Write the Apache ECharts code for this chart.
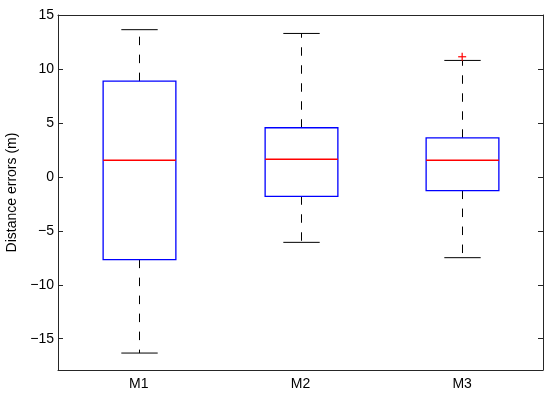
<!DOCTYPE html>
<html><head><meta charset="utf-8">
<script src="https://cdn.jsdelivr.net/npm/echarts@6/dist/echarts.min.js"></script>
<style>html,body{margin:0;padding:0;background:#fff}#c{width:550px;height:394px}</style>
</head><body><div id="c"></div>
<script>
const categories = ['M1', 'M2', 'M3'];
const lowerWhisker = [-16.33, -6.07, -7.49];
const q1 = [-7.67, -1.8, -1.27];
const median = [1.54, 1.63, 1.54];
const q3 = [8.87, 4.55, 3.62];
const upperWhisker = [13.64, 13.29, 10.79];
const outlierCat = [2];
const outlierVal = [11.13];
const yTicks = [-15, -10, -5, 0, 5, 10, 15];
const yMin = -17.9, yMax = 15;

const boxData = categories.map((c, i) => [i, lowerWhisker[i], q1[i], median[i], q3[i], upperWhisker[i]]);
const outData = outlierCat.map((c, i) => [c, outlierVal[i]]);

const FONT = 'Liberation Sans, Arial, sans-serif';
const axisColor = '#262626';

function renderBox(params, api) {
  const x = api.value(0);
  const band = api.size([1, 0])[0];
  const hw = band * 0.225, cw = band * 0.1125;
  const pLo = api.coord([x, api.value(1)]);
  const pQ1 = api.coord([x, api.value(2)]);
  const pMed = api.coord([x, api.value(3)]);
  const pQ3 = api.coord([x, api.value(4)]);
  const pHi = api.coord([x, api.value(5)]);
  const cx = Math.round(pQ1[0]) + 0.5;
  const dash = { stroke: '#000', lineWidth: 1, lineDash: [8.5, 9.5] };
  const solid = { stroke: '#000', lineWidth: 1 };
  return {
    type: 'group',
    children: [
      { type: 'line', shape: { x1: cx, y1: pQ3[1], x2: cx, y2: pHi[1] }, style: dash },
      { type: 'line', shape: { x1: cx, y1: pQ1[1], x2: cx, y2: pLo[1] }, style: dash },
      { type: 'line', shape: { x1: cx - cw, y1: pHi[1], x2: cx + cw, y2: pHi[1] }, style: solid },
      { type: 'line', shape: { x1: cx - cw, y1: pLo[1], x2: cx + cw, y2: pLo[1] }, style: solid },
      { type: 'rect', shape: { x: cx - hw, y: pQ3[1], width: 2 * hw, height: pQ1[1] - pQ3[1] },
        style: { fill: 'none', stroke: '#0000ff', lineWidth: 1.3 } },
      { type: 'line', shape: { x1: cx - hw, y1: pMed[1], x2: cx + hw, y2: pMed[1] },
        style: { stroke: '#ff0000', lineWidth: 1.3 } }
    ]
  };
}

function renderOut(params, api) {
  const p = api.coord([api.value(0), api.value(1)]);
  const s = 4;
  const st = { stroke: '#ff0000', lineWidth: 1.2 };
  return {
    type: 'group',
    children: [
      { type: 'line', shape: { x1: p[0] - s, y1: p[1], x2: p[0] + s, y2: p[1] }, style: st },
      { type: 'line', shape: { x1: p[0], y1: p[1] - s, x2: p[0], y2: p[1] + s }, style: st }
    ]
  };
}

const minusFmt = v => String(v).replace('-', '\u2212');

const chart = echarts.init(document.getElementById('c'), null, { renderer: 'canvas' });
chart.setOption({
  animation: false,
  backgroundColor: '#fff',
  grid: { left: 58, top: 15, right: 7, bottom: 24, containLabel: false, outerBoundsMode: 'none' },
  xAxis: [
    { type: 'category', data: categories, boundaryGap: true, position: 'bottom',
      axisLine: { onZero: false, lineStyle: { color: axisColor, width: 1 } },
      axisTick: { show: false },
      axisLabel: { color: '#000', fontFamily: FONT, fontSize: 14, margin: 7 },
      splitLine: { show: false } },
    { type: 'category', data: categories, boundaryGap: true, position: 'top',
      axisLine: { onZero: false, lineStyle: { color: axisColor, width: 1 } },
      axisTick: { show: false }, axisLabel: { show: false }, splitLine: { show: false } }
  ],
  yAxis: [
    { type: 'value', min: yMin, max: yMax, position: 'left',
      name: 'Distance errors (m)', nameLocation: 'middle', nameGap: 39, nameRotate: 90,
      nameTextStyle: { color: '#000', fontFamily: FONT, fontSize: 14 },
      axisLine: { show: true, onZero: false, lineStyle: { color: axisColor, width: 1 } },
      axisTick: { show: true, inside: true, length: 5, customValues: yTicks, lineStyle: { color: axisColor } },
      axisLabel: { color: '#000', fontFamily: FONT, fontSize: 14, margin: 4, customValues: yTicks, formatter: minusFmt },
      splitLine: { show: false } },
    { type: 'value', min: yMin, max: yMax, position: 'right',
      axisLine: { show: true, onZero: false, lineStyle: { color: axisColor, width: 1 } },
      axisTick: { show: true, inside: true, length: 5, customValues: yTicks, lineStyle: { color: axisColor } },
      axisLabel: { show: false }, splitLine: { show: false } }
  ],
  series: [
    { type: 'custom', renderItem: renderBox, data: boxData, xAxisIndex: 0, yAxisIndex: 0,
      encode: { x: 0, y: [1, 2, 3, 4, 5] }, clip: false },
    { type: 'custom', renderItem: renderOut, data: outData, xAxisIndex: 0, yAxisIndex: 0,
      encode: { x: 0, y: 1 }, clip: false }
  ]
});
</script>
</body></html>
